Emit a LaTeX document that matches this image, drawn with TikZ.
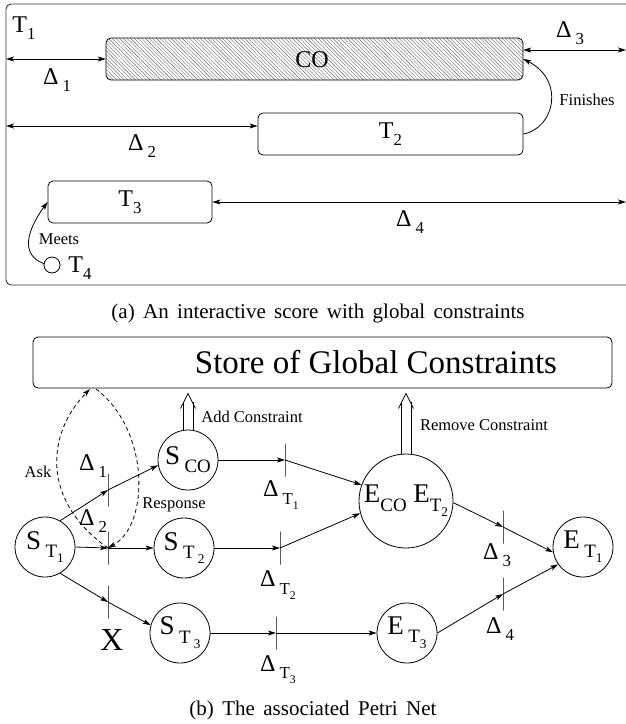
\documentclass[tikz,border=0pt]{standalone}
\usepackage{fontspec}
\setmainfont{Liberation Serif}
\usetikzlibrary{arrows.meta,patterns.meta}
\newcommand\fsz[1]{\fontsize{#1}{#1}\selectfont}
\newcommand\sbs[1]{\raisebox{-0.3em}{\scalebox{0.7}{#1}}}
\newcommand\dlt[1]{Δ\,\sbs{#1}}
\begin{document}
\begin{tikzpicture}[x=1pt, y=-1pt, line width=0.8pt,
    >={Stealth[length=8pt,width=5pt,inset=2pt]},
    box/.style={draw, rounded corners=5pt, minimum height=42pt, inner sep=0pt, font=\fsz{24}},
    place/.style={circle, draw, minimum size=60pt, inner sep=0pt, font=\fsz{27}},
    bar/.style={draw, minimum width=0pt, minimum height=33pt, inner sep=0pt},
    lbl/.style={font=\fsz{24}},
    smalltxt/.style={font=\fsz{16.5}},
    capt/.style={font={\fsz{21}\spaceskip=0.4em}}]
\useasboundingbox (0,0) rectangle (626,724);

%% === (a) partitura interattiva ===
\draw[black!80, line width=0.9pt, rounded corners=5pt] (6,4) rectangle (640,285);
\node[lbl] (t1) at (24,28) {T\sbs{1}};

\node[box, minimum width=417pt, pattern={Lines[angle=-45,distance=2.6pt,line width=0.4pt]},
      pattern color=black!60] (co) at (314.5,59) {};
\node[lbl] (colbl) at (312,60) {CO};
\node[box, minimum width=265pt] (t2) at (390.5,134) {T\sbs{2}};
\node[box, minimum width=164pt] (t3) at (130,202) {T\sbs{3}};
\node[circle, draw, minimum size=16pt, inner sep=0pt] (t4) at (52,265) {};
\node[lbl] (t4lbl) at (80,268) {T\sbs{4}};

%% intervalli
\coordinate (l1) at (6,59);
\coordinate (l2) at (6,126);
\coordinate (r3) at (626,50);
\coordinate (r4) at (626,202);
\draw[<->] (l1) -- (co.west);
\draw[<->] (l2) -- (l2 -| t2.west);
\draw[<->] (r3 -| co.east) -- (r3);
\draw[<->] (t3.east) -- (r4);
\node[lbl] at (57,80) {\dlt{1}};
\node[lbl] at (142,146) {\dlt{2}};
\node[lbl] at (570,33) {\dlt{3}};
\node[lbl] at (410,222) {\dlt{4}};

%% relazioni
\draw[->] (t2.east) .. controls (555,128) and (565,80) .. (co.east);
\node[smalltxt] at (587,100) {Finishes};
\draw[->] (t4.170) .. controls (20,255) and (27,230) .. (t3.west);
\node[smalltxt] at (59,239) {Meets};

\node[capt] at (318,313) {(a) An interactive score with global constraints};

%% === (b) rete di Petri ===
\node[draw, rounded corners=5pt, minimum width=579pt, minimum height=51pt] (store) at (322.5,362.5) {};
\node[font=\fsz{33}] (storelbl) at (376,362) {Store of Global Constraints};

%% posti
\node[place] (st1) at (45,547) {S\,\sbs{T\sbs{1}}};
\node[place] (sco) at (188,460) {S\,\sbs{CO}};
\node[place] (st2) at (184,548) {S\,\sbs{T\,\sbs{2}}};
\node[place] (st3) at (180,633) {S\,\sbs{T\,\sbs{3}}};
\node[place, minimum size=94pt] (eco) at (406,501) {E\sbs{CO} E\sbs{T\sbs{2}}};
\node[place] (et3) at (407,633) {E\,\sbs{T\sbs{3}}};
\node[place] (et1) at (583,547) {E\,\sbs{T\sbs{1}}};

%% transizioni
\node[bar] (d1)  at (108,490) {};
\node[bar] (d2)  at (108,548) {};
\node[bar] (dx)  at (108,602) {};
\node[bar] (dt1) at (285,460) {};
\node[bar] (dt2) at (280,548) {};
\node[bar] (dt3) at (276,633) {};
\node[bar] (d3)  at (503,527) {};
\node[bar] (d4)  at (503,594) {};

\node[lbl] at (93,466) {\dlt{1}};
\node[lbl] at (93,521) {\dlt{2}};
\node[font=\fsz{32}] at (112,640) {X};
\node[lbl] at (281,495) {\dlt{T\sbs{1}}};
\node[lbl] at (278,585) {\dlt{T\sbs{2}}};
\node[lbl] at (278,670) {\dlt{T\sbs{3}}};
\node[lbl] at (497,555) {\dlt{3}};
\node[lbl] at (500,629) {\dlt{4}};

%% archi
\draw[->] (st1.60) -- (d1.center);
\draw[->] (d1.center) -- (sco.190);
\draw[->] (st1.east) -- (d2.center);
\draw[->] (d2.center) -- (st2);
\draw[->] (st1.-60) -- (dx.center);
\draw[->] (dx.center) -- (st3.165);
\draw[->] (sco) -- (dt1.center);
\draw[->] (dt1.center) -- (eco.160);
\draw[->] (st2) -- (dt2.center);
\draw[->] (dt2.center) -- (eco.195);
\draw[->] (st3) -- (dt3.center);
\draw[->] (dt3.center) -- (et3);
\draw[->] (eco.-2) -- (d3.center);
\draw[->] (d3.center) -- (et1.190);
\draw[->] (et3.east) -- (d4.center);
\draw[->] (d4.center) -- (et1.215);

%% vincoli globali (frecce doppie)
\foreach \n in {sco,eco} {
    \path ([yshift=-5pt]\n.north |- store.south) coordinate (tip);
    \draw ([xshift=-5pt]\n.north) -- ([xshift=-5pt,yshift=-9pt]tip);
    \draw ([xshift=5pt]\n.north) -- ([xshift=5pt,yshift=-9pt]tip);
    \draw ([xshift=-7.5pt,yshift=-15pt]tip) -- (tip) -- ([xshift=7.5pt,yshift=-15pt]tip);
}
\node[smalltxt] at (252,417) {Add Constraint};
\node[smalltxt] at (484,425) {Remove Constraint};

\coordinate (sa) at (90,389);
\coordinate (sr) at (96,389);
\draw[->, dash pattern=on 4pt off 3pt] (d2.center) .. controls (40,500) and (47,433) .. (sa);
\draw[->, dash pattern=on 4pt off 3pt] (sr) .. controls (150,430) and (150,525) .. (d2.center);
\node[smalltxt] at (38,472) {Ask};
\node[smalltxt] at (174,505) {Response};

\node[capt] at (313,710) {(b) The associated Petri Net};
\end{tikzpicture}
\end{document}
